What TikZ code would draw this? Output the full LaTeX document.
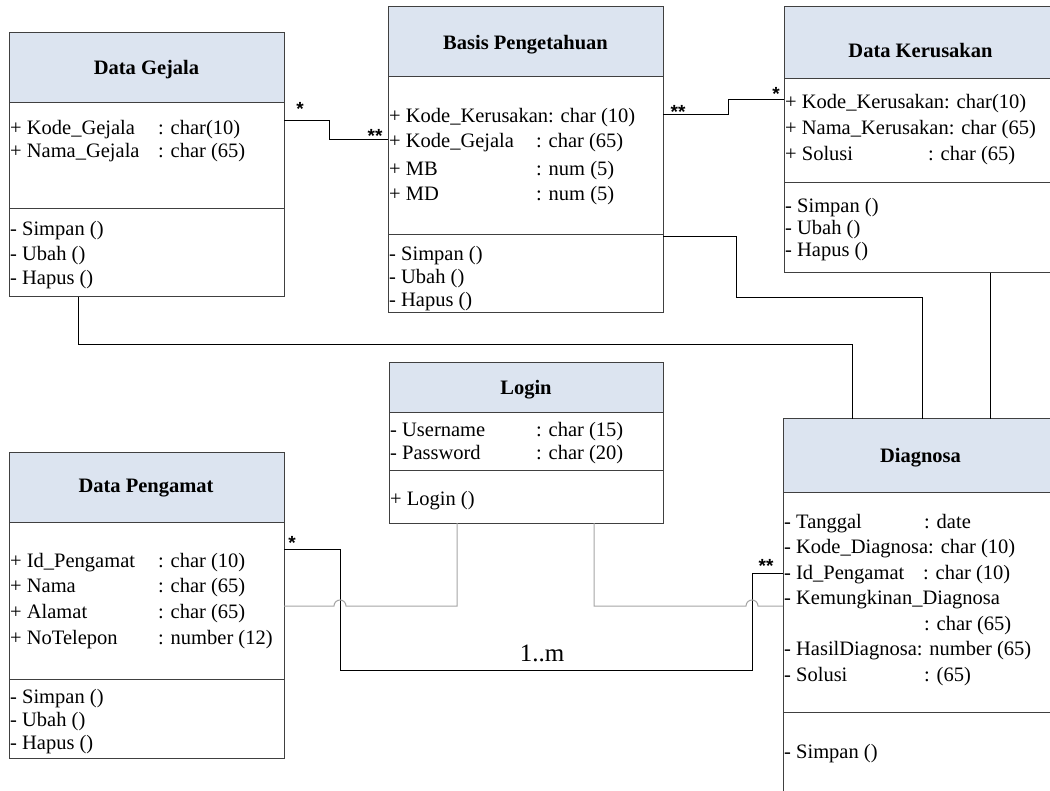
\documentclass[tikz,border=0pt]{standalone}
\usepackage{fontspec}
\setmainfont{Liberation Serif}
\newfontfamily\starfont{Liberation Sans}
\definecolor{hdrblue}{RGB}{220,228,240}
\definecolor{boxline}{RGB}{64,64,64}
\definecolor{lgray}{RGB}{165,165,165}
\tikzset{
  box/.style={draw=boxline, line width=1pt, anchor=north west, inner sep=0pt, outer sep=0pt, minimum width=275pt},
  hdr/.style={box, fill=hdrblue},
  sec/.style={box, fill=white},
  txt/.style={anchor=base west, inner sep=0pt, font=\fontsize{20.5}{24}\selectfont},
  ttl/.style={anchor=base, inner sep=0pt, font=\fontsize{20.5}{24}\selectfont\bfseries},
  star/.style={anchor=base, inner sep=0pt, font=\starfont\bfseries\fontsize{19}{22}\selectfont},
  conn/.style={draw=black, line width=1pt},
  gconn/.style={draw=lgray, line width=1pt}
}
\begin{document}
\begin{tikzpicture}[x=1pt,y=1pt]
\useasboundingbox (0,0) rectangle (1050,-791);
\clip (0,0) rectangle (1050,-791);
\fill[white] (0,0) rectangle (1050,-791);

% Data Gejala
\node[hdr, minimum height=70pt] (gH) at (9,-33) {};
\node[sec, minimum height=106pt] (gA) at (9,-103) {};
\node[sec, minimum height=88pt] (gM) at (9,-209) {};
\node[ttl] (gT) at (146.5,-75) {Data Gejala};
\node[txt] (gA1) at (10,-135) {+ Kode\_Gejala};
\node[txt] (gA1t) at (158,-135) {: char(10)};
\node[txt] (gA2) at (10,-158) {+ Nama\_Gejala};
\node[txt] (gA2t) at (158,-158) {: char (65)};
\node[txt] (gM1) at (10,-236) {- Simpan ()};
\node[txt] (gM2) at (10,-261) {- Ubah ()};
\node[txt] (gM3) at (10,-285) {- Hapus ()};

% Basis Pengetahuan
\node[hdr, minimum height=70pt] (bH) at (388,-7) {};
\node[sec, minimum height=158pt] (bA) at (388,-77) {};
\node[sec, minimum height=78pt] (bM) at (388,-235) {};
\node[ttl] (bT) at (525.5,-50) {Basis Pengetahuan};
\node[txt] (bA1) at (389,-123) {+ Kode\_Kerusakan: char (10)};
\node[txt] (bA2) at (389,-148) {+ Kode\_Gejala};
\node[txt] (bA2t) at (536,-148) {: char (65)};
\node[txt] (bA3) at (389,-176) {+ MB};
\node[txt] (bA3t) at (536,-176) {: num (5)};
\node[txt] (bA4) at (389,-201) {+ MD};
\node[txt] (bA4t) at (536,-201) {: num (5)};
\node[txt] (bM1) at (389,-261) {- Simpan ()};
\node[txt] (bM2) at (389,-284) {- Ubah ()};
\node[txt] (bM3) at (389,-307) {- Hapus ()};

% Data Kerusakan
\node[hdr, minimum height=72pt, minimum width=273pt] (kH) at (784,-7) {};
\node[sec, minimum height=104pt, minimum width=273pt] (kA) at (784,-79) {};
\node[sec, minimum height=90pt, minimum width=273pt] (kM) at (784,-183) {};
\node[ttl] (kT) at (920.5,-58) {Data Kerusakan};
\node[txt] (kA1) at (785,-109) {+ Kode\_Kerusakan: char(10)};
\node[txt] (kA2) at (785,-135) {+ Nama\_Kerusakan: char (65)};
\node[txt] (kA3) at (785,-161) {+ Solusi};
\node[txt] (kA3t) at (928,-161) {: char (65)};
\node[txt] (kM1) at (785,-213) {- Simpan ()};
\node[txt] (kM2) at (785,-235) {- Ubah ()};
\node[txt] (kM3) at (785,-257) {- Hapus ()};

% Login
\node[hdr, minimum height=50pt, minimum width=274pt] (lH) at (389,-363) {};
\node[sec, minimum height=58pt, minimum width=274pt] (lA) at (389,-413) {};
\node[sec, minimum height=52pt, minimum width=274pt] (lM) at (389,-471) {};
\node[ttl] (lT) at (526,-395) {Login};
\node[txt] (lA1) at (390,-437) {- Username};
\node[txt] (lA1t) at (536,-437) {: char (15)};
\node[txt] (lA2) at (390,-460) {- Password};
\node[txt] (lA2t) at (536,-460) {: char (20)};
\node[txt] (lM1) at (390,-505) {+ Login ()};

% Data Pengamat
\node[hdr, minimum height=69pt] (pH) at (9,-453) {};
\node[sec, minimum height=157pt] (pA) at (9,-522) {};
\node[sec, minimum height=79pt] (pM) at (9,-679) {};
\node[ttl] (pT) at (146,-493) {Data Pengamat};
\node[txt] (pA1) at (10,-567) {+ Id\_Pengamat};
\node[txt] (pA1t) at (158,-567) {: char (10)};
\node[txt] (pA2) at (10,-592) {+ Nama};
\node[txt] (pA2t) at (158,-592) {: char (65)};
\node[txt] (pA3) at (10,-618) {+ Alamat};
\node[txt] (pA3t) at (158,-618) {: char (65)};
\node[txt] (pA4) at (10,-644) {+ NoTelepon};
\node[txt] (pA4t) at (158,-644) {: number (12)};
\node[txt] (pM1) at (10,-703) {- Simpan ()};
\node[txt] (pM2) at (10,-726) {- Ubah ()};
\node[txt] (pM3) at (10,-749) {- Hapus ()};

% Diagnosa
\node[hdr, minimum height=73pt] (dH) at (783,-419) {};
\node[sec, minimum height=220pt] (dA) at (783,-492) {};
\node[sec, minimum height=100pt] (dM) at (783,-712) {};
\node[ttl] (dT) at (920.5,-463) {Diagnosa};
\node[txt] (dA1) at (784,-528) {- Tanggal};
\node[txt] (dA1t) at (924,-528) {: date};
\node[txt] (dA2) at (784,-553) {- Kode\_Diagnosa: char (10)};
\node[txt] (dA3) at (784,-579) {- Id\_Pengamat};
\node[txt] (dA3t) at (923,-579) {: char (10)};
\node[txt] (dA4) at (784,-604) {- Kemungkinan\_Diagnosa};
\node[txt] (dA5) at (924,-630) {: char (65)};
\node[txt] (dA6) at (784,-655) {- HasilDiagnosa: number (65)};
\node[txt] (dA7) at (784,-681) {- Solusi};
\node[txt] (dA7t) at (924,-681) {: (65)};
\node[txt] (dM1) at (784,-758) {- Simpan ()};

% connectors
\draw[conn] ([yshift=-18pt]gA.north east) -- ++(45,0) |- ([yshift=-63pt]bA.north west);
\draw[conn] ([yshift=-38pt]bA.north east) -- ++(65,0) |- ([yshift=-21pt]kA.north west);
\draw[conn] ([yshift=-2pt]bM.north east) -- ++(73,0) -- ++(0,-61) -| ([xshift=139pt]dH.north west);
\draw[conn] ([xshift=206pt]kM.south west) -- ([xshift=207pt]dH.north west);
\draw[conn] ([xshift=69pt]gM.south west) -- ++(0,-48) -| ([xshift=69pt]dH.north west);
\draw[conn] ([yshift=-27pt]pA.north east) -- ++(56,0) -- ++(0,-121) -- ++(412,0) |- ([yshift=-81pt]dA.north west);
\draw[gconn] ([xshift=68pt]lM.south west) -- ++(0,-83) -- (346,-606) arc[start angle=0, end angle=180, radius=6] -- (pA.east |- 0,-606);
\draw[gconn] ([xshift=205pt]lM.south west) -- ++(0,-83) -- (746,-606) arc[start angle=180, end angle=0, radius=6] -- (dA.west |- 0,-606);

% multiplicities
\node[star] (s1) at (300,-116) {*};
\node[star] (s2) at (375,-143) {**};
\node[star] (s3) at (678,-119) {**};
\node[star] (s4) at (776,-101) {*};
\node[star] (s5) at (292,-549) {*};
\node[star] (s6) at (766,-572) {**};
\node[anchor=base, inner sep=0pt, font=\fontsize{25}{30}\selectfont] (m1) at (542,-661) {1..m};
\end{tikzpicture}
\end{document}
